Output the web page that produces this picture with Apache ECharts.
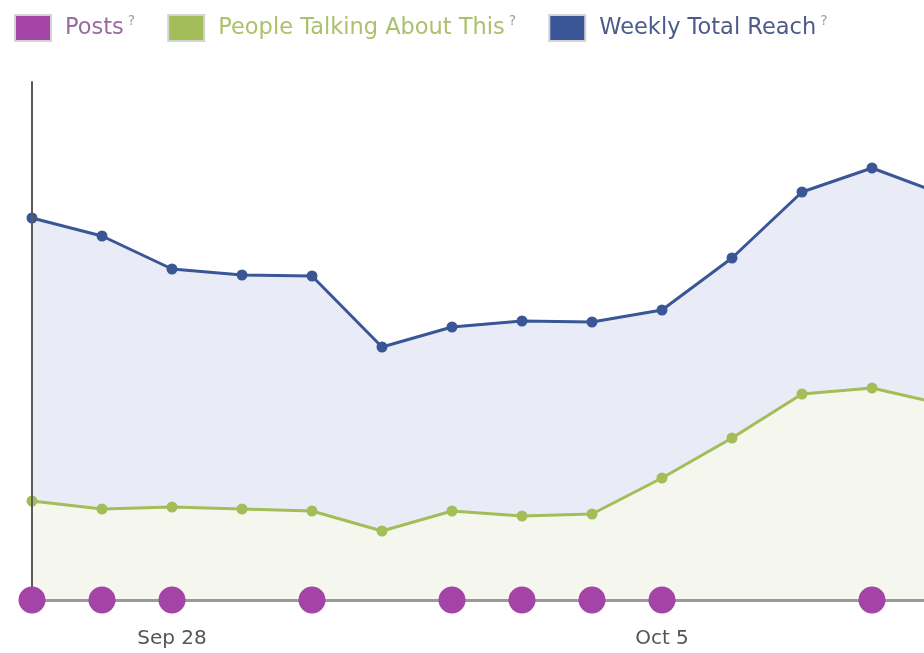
<!DOCTYPE html>
<html>
<head>
<meta charset="utf-8">
<script src="https://cdn.jsdelivr.net/npm/echarts@6/dist/echarts.min.js"></script>
<style>html,body{margin:0;padding:0;background:#fff;overflow:hidden;width:924px;height:653px;}#c{width:942px;height:653px;}</style>
</head>
<body>
<div id="c"></div>
<script>
const categories = ['Sep 26','Sep 27','Sep 28','Sep 29','Sep 30','Oct 1','Oct 2','Oct 3','Oct 4','Oct 5','Oct 6','Oct 7','Oct 8','Oct 9'];
const labeledDates = ['Sep 28','Oct 5'];
const weeklyReach = [382, 364, 331, 325, 324, 253, 273, 279, 278, 290, 342, 408, 432, 406];
const talkingAbout = [99, 91, 93, 91, 89, 69, 89, 84, 86, 122, 162, 206, 212, 196];
const posts = [0, 0, 0, '-', 0, '-', 0, 0, 0, 0, '-', '-', 0, '-'];
const yMax = 518;

const chart = echarts.init(document.getElementById('c'), null, {renderer:'canvas'});
const font = 'DejaVu Sans';
function legendItem(name, color) {
  return {name: name, textStyle: {color: color}, itemStyle: {borderColor: '#d4d4d4', borderWidth: 2}};
}
chart.setOption({
  animation: false,
  backgroundColor: '#ffffff',
  legend: {
    left: 9, top: 9,
    itemWidth: 36, itemHeight: 26, itemGap: 32,
    icon: 'rect',
    textStyle: {fontFamily: font, fontSize: 22.5,
      rich: {
        n: {fontFamily: font, fontSize: 22.5, padding: [0, 0, 0, 9]},
        q: {fontSize: 14, color: '#a0a0a0', fontFamily: font, padding: [0, 0, 14, 4]}
      }},
    formatter: n => '{n|' + n + '}{q|?}',
    data: [legendItem('Posts', '#9c6a9e'), legendItem('People Talking About This', '#adc06c'), legendItem('Weekly Total Reach', '#4d5b8a')]
  },
  grid: {left: 32, right: 0, top: 82, bottom: 53, containLabel: false},
  xAxis: {
    type: 'category', data: categories, boundaryGap: false, z: 4,
    axisLine: {show: true, lineStyle: {color: '#9a9a9a', width: 3}},
    axisTick: {show: false},
    axisLabel: {
      interval: (i, v) => labeledDates.indexOf(v) >= 0,
      color: '#555', fontFamily: font, fontSize: 20, margin: 29
    }
  },
  yAxis: {
    type: 'value', min: 0, max: yMax, z: 4,
    axisLine: {show: true, lineStyle: {color: '#5a5a5a', width: 2}},
    axisTick: {show: false}, axisLabel: {show: false}, splitLine: {show: false}
  },
  series: [
    {
      name: 'Weekly Total Reach', type: 'line', data: weeklyReach,
      symbol: 'circle', symbolSize: 11, z: 2,
      lineStyle: {color: '#3a5696', width: 3},
      itemStyle: {color: '#3a5696'},
      areaStyle: {color: '#e9ecf6', opacity: 1}
    },
    {
      name: 'People Talking About This', type: 'line', data: talkingAbout,
      symbol: 'circle', symbolSize: 11, z: 3,
      lineStyle: {color: '#a3bd59', width: 3},
      itemStyle: {color: '#a3bd59'},
      areaStyle: {color: '#f5f6ee', opacity: 1}
    },
    {
      name: 'Posts', type: 'scatter', data: posts,
      symbol: 'circle', symbolSize: 27, z: 5, clip: false,
      itemStyle: {color: '#a444a6', opacity: 1}
    }
  ]
});
</script>
</body>
</html>
